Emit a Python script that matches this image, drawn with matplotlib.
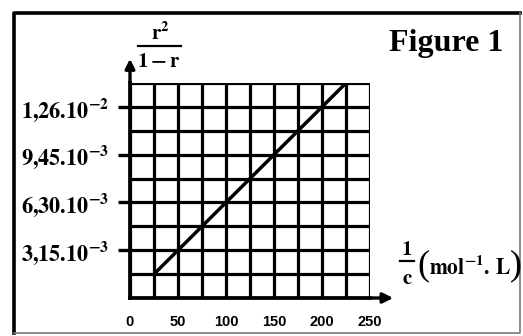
import matplotlib.pyplot as plt
import numpy as np
from matplotlib.lines import Line2D

plt.rcParams['mathtext.fontset'] = 'stix'

# data
x_ticks = [0, 50, 100, 150, 200, 250]
x_labels = ['0', '50', '100', '150', '200', '250']
y_ticks = [3.15e-3, 6.30e-3, 9.45e-3, 1.26e-2]
y_labels = [r'$\mathbf{3{,}15.10^{-3}}$', r'$\mathbf{6{,}30.10^{-3}}$',
            r'$\mathbf{9{,}45.10^{-3}}$', r'$\mathbf{1{,}26.10^{-2}}$']
inv_c = [25, 225]
ratio = [1.575e-3, 1.4175e-2]

W, H = 523, 336
fig = plt.figure(figsize=(W / 100, H / 100), dpi=100)
ax = fig.add_axes([130 / W, 1 - 298 / H, 240 / W, 215 / H])

ax.set_xlim(0, 250)
ax.set_ylim(0, 1.4175e-2)

# squared paper
ax.set_xticks(np.arange(0, 251, 25), minor=True)
ax.set_yticks(np.arange(0, 10) * 1.575e-3, minor=True)
ax.tick_params(which='minor', length=0)

ax.set_xticks(x_ticks)
ax.set_xticklabels(x_labels, fontfamily='Liberation Sans', fontweight='bold', fontsize=10.5)
ax.set_yticks(y_ticks)
ax.set_yticklabels(y_labels, fontsize=16)
ax.tick_params(axis='x', length=0, pad=12)
ax.tick_params(axis='y', length=9, width=2.4, pad=6, direction='out')
ax.grid(which='both', color='black', lw=2.3)
ax.set_axisbelow(False)

for s in ['top', 'right']:
    ax.spines[s].set_visible(False)
ax.spines['left'].set_linewidth(2.7)
ax.spines['bottom'].set_linewidth(2.7)

ax.plot(inv_c, ratio, color='black', lw=2.5, solid_capstyle='butt')

# axis arrows
ax.annotate('', xy=(0, 1 + 27 / 215), xytext=(0, 0.99), xycoords='axes fraction',
            arrowprops=dict(arrowstyle='-|>', color='black', lw=2.4, mutation_scale=14),
            annotation_clip=False)
ax.annotate('', xy=(1 + 26 / 240, 0), xytext=(0.99, 0), xycoords='axes fraction',
            arrowprops=dict(arrowstyle='-|>', color='black', lw=2.4, mutation_scale=15),
            annotation_clip=False)

# y axis label  r^2 / (1 - r)
fig.text(160 / W, 1 - 33 / H, r'$\mathbf{r^2}$', fontsize=15, ha='center', va='center')
fig.add_artist(Line2D([138 / W, 181 / W], [1 - 46 / H, 1 - 46 / H], color='black', lw=1.6))
fig.text(159 / W, 1 - 61 / H, r'$\mathbf{1-r}$', fontsize=15, ha='center', va='center')

# x axis label  1/c (mol-1. L)
fig.text(407 / W, 1 - 249 / H, r'$\mathbf{1}$', fontsize=15, ha='center', va='center')
fig.add_artist(Line2D([400 / W, 414 / W], [1 - 261 / H, 1 - 261 / H], color='black', lw=1.6))
fig.text(407 / W, 1 - 278 / H, r'$\mathbf{c}$', fontsize=15, ha='center', va='center')
fig.text(417 / W, 1 - 266 / H, '(', fontfamily='Liberation Serif', fontsize=26,
         ha='left', va='center')
fig.text(429 / W, 1 - 266 / H, r'$\mathbf{mol^{-1}.\,L}$', fontsize=15.5,
         ha='left', va='center')
fig.text(522 / W, 1 - 266 / H, ')', fontfamily='Liberation Serif', fontsize=26,
         ha='right', va='center')

fig.text(446 / W, 1 - 44 / H, 'Figure 1', fontfamily='Liberation Serif',
         fontweight='bold', fontsize=23, ha='center', va='center')

# outer frame
fig.add_artist(Line2D([14 / W, 14 / W, 520 / W], [1 - 333 / H, 1 - 13 / H, 1 - 13 / H],
                      color='black', lw=2.6))
fig.add_artist(Line2D([14 / W, 520 / W, 520 / W], [1 - 333 / H, 1 - 333 / H, 1 - 13 / H],
                      color='#777777', lw=1.2))

fig.savefig('out.png', dpi=100)
